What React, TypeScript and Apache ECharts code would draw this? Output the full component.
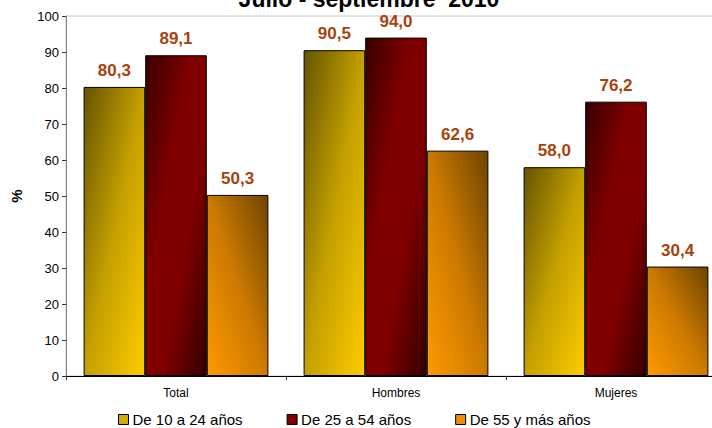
import React, { useEffect, useRef } from "react";
import * as echarts from "echarts";

const categories = ["Total", "Hombres", "Mujeres"];
const seriesNames = ["De 10 a 24 años", "De 25 a 54 años", "De 55 y más años"];
const young = [80.3, 90.5, 58.0];
const middle = [89.1, 94.0, 76.2];
const older = [50.3, 62.6, 30.4];
const yTicks = { min: 0, max: 100, interval: 10 };
const titleText = "Julio - septiembre  2010";

const fmt = (v: number) => v.toFixed(1).replace(".", ",");

export default function App() {
  const ref = useRef<HTMLDivElement>(null);
  useEffect(() => {
    if (!ref.current) return;
    const chart = echarts.init(ref.current, undefined, { renderer: "svg" });
    const G = echarts.graphic.LinearGradient;
    const goldGrad = new G(0, 0, 1, 1, [
      { offset: 0, color: "#665400" },
      { offset: 0.5, color: "#c4a000" },
      { offset: 1, color: "#ffcc00" },
    ]);
    const redGrad = new G(0, 0, 1, 1, [
      { offset: 0, color: "#380000" },
      { offset: 0.38, color: "#800000" },
      { offset: 0.62, color: "#800000" },
      { offset: 1, color: "#340000" },
    ]);
    const orangeGrad = new G(0, 1, 1, 0, [
      { offset: 0, color: "#ff9900" },
      { offset: 0.5, color: "#cc7a00" },
      { offset: 1, color: "#6e4400" },
    ]);
    const label = {
      show: true,
      position: "top",
      distance: 8,
      color: "#a8420c",
      fontFamily: "Liberation Sans, Arial, sans-serif",
      fontWeight: "bold",
      fontSize: 17,
      formatter: (p: any) => fmt(p.value),
    };
    const mk = (name: string, data: number[], color: any) => ({
      name,
      type: "bar",
      data,
      barGap: "0%",
      barCategoryGap: "16%",
      itemStyle: { color, borderColor: "#000", borderWidth: 1 },
      label,
    });
    chart.setOption({
      animation: false,
      backgroundColor: "#fff",
      textStyle: { fontFamily: "Liberation Sans, Arial, sans-serif" },
      graphic: [
        {
          type: "text",
          x: 369,
          y: -13,
          style: {
            text: titleText,
            align: "center",
            verticalAlign: "top",
            fill: "#000",
            font: "bold 23px 'Liberation Sans', Arial, sans-serif",
          },
        },
      ],
      grid: {
        left: 66,
        top: 16,
        width: 660,
        height: 360,
        outerBoundsMode: "none",
        containLabel: false,
        show: true,
        borderColor: "#c8c8c8",
        borderWidth: 1,
        backgroundColor: "transparent",
      },
      legend: {
        left: 113,
        top: 407,
        itemWidth: 10,
        itemHeight: 10,
        itemGap: 44,
        icon: "rect",
        textStyle: { fontSize: 15, color: "#000", padding: [0, 0, 0, -1] },
        data: [
          { name: seriesNames[0], itemStyle: { color: "#d4aa00", borderColor: "#000", borderWidth: 1 } },
          { name: seriesNames[1], itemStyle: { color: "#800000", borderColor: "#000", borderWidth: 1 } },
          { name: seriesNames[2], itemStyle: { color: "#ee8c00", borderColor: "#000", borderWidth: 1 } },
        ],
      },
      xAxis: {
        type: "category",
        data: categories,
        axisLine: { lineStyle: { color: "#000", width: 1 } },
        axisTick: { show: true, length: 4, lineStyle: { color: "#333" } },
        axisLabel: { fontSize: 12, color: "#000", margin: 11 },
      },
      yAxis: {
        type: "value",
        min: yTicks.min,
        max: yTicks.max,
        interval: yTicks.interval,
        name: "%",
        nameLocation: "middle",
        nameRotate: 90,
        nameGap: 42,
        nameTextStyle: { fontWeight: "bold", fontSize: 15, color: "#000" },
        splitLine: { show: false },
        axisLine: { show: true, lineStyle: { color: "#808080" } },
        axisTick: { show: true, length: 4, lineStyle: { color: "#333" } },
        axisLabel: { fontSize: 13, color: "#000", margin: 7 },
      },
      series: [
        mk(seriesNames[0], young, goldGrad),
        mk(seriesNames[1], middle, redGrad),
        mk(seriesNames[2], older, orangeGrad),
      ],
    });
    return () => chart.dispose();
  }, []);
  return (
    <div
      ref={ref}
      style={{ position: "absolute", left: 0, top: 0, width: 712, height: 428, overflow: "hidden" }}
    />
  );
}
